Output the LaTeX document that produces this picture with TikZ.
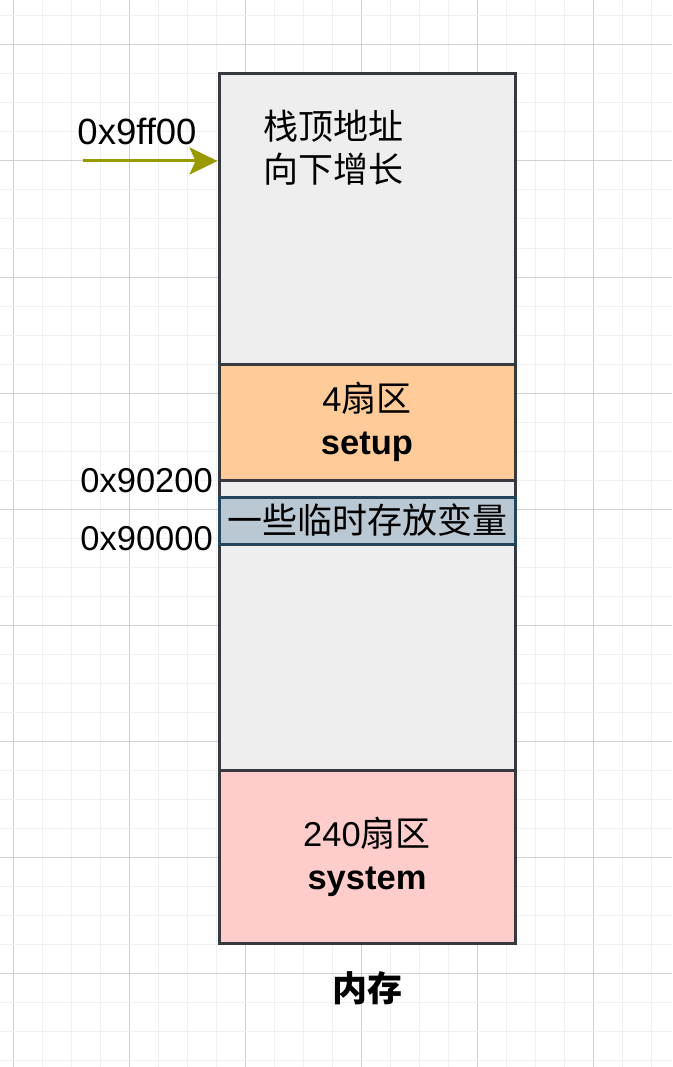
\documentclass[tikz,border=0pt]{standalone}
\usepackage{fontspec}
\setmainfont{Liberation Sans}
\newfontfamily\cjk{Noto Sans CJK SC}
\usetikzlibrary{arrows.meta}
\definecolor{gridminor}{HTML}{F0F0F0}
\definecolor{gridmajor}{HTML}{D0D0D0}
\definecolor{cellgray}{HTML}{EEEEEE}
\definecolor{cellstroke}{HTML}{36393D}
\definecolor{cellorange}{HTML}{FFCC99}
\definecolor{cellblue}{HTML}{BAC8D3}
\definecolor{bluestroke}{HTML}{23445D}
\definecolor{cellpink}{HTML}{FFCCCC}
\definecolor{arrowolive}{HTML}{999900}
\tikzset{
  bigtext/.style={font=\fontsize{35}{43}\selectfont, inner sep=0pt, align=center},
  memcell/.style={draw=cellstroke, line width=3pt, minimum width=296pt, inner sep=0pt, align=center, font=\fontsize{34.5}{43}\selectfont},
  addr/.style={font=\fontsize{34.5}{43}\selectfont, inner sep=0pt},
}
\begin{document}
\begin{tikzpicture}[x=1pt,y=-1pt]
\useasboundingbox (0,0) rectangle (672,1067);
\fill[white] (0,0) rectangle (672,1067);
% grid
\foreach \i in {0,...,22} {
  \pgfmathtruncatemacro{\m}{mod(\i,4)}
  \ifnum\m=0
    \draw[gridmajor, line width=1pt] (13+29*\i,0) -- (13+29*\i,1067);
  \else
    \draw[gridminor, line width=1pt] (13+29*\i,0) -- (13+29*\i,1067);
  \fi
}
\foreach \j in {0,...,36} {
  \pgfmathtruncatemacro{\m}{mod(\j,4)}
  \ifnum\m=1
    \draw[gridmajor, line width=1pt] (0,16+29*\j) -- (672,16+29*\j);
  \else
    \draw[gridminor, line width=1pt] (0,16+29*\j) -- (672,16+29*\j);
  \fi
}
% memory column
\node[memcell, fill=cellgray, minimum height=869pt] (mem) at (367,508.5) {};
\node[memcell, fill=cellorange, minimum height=116pt] (setup) at (367,422) {4{\cjk\fontsize{35}{43}\selectfont 扇区}\\\textbf{setup}};
\node[memcell, draw=bluestroke, fill=cellblue, minimum height=47pt] (tmp) at (367,520.5) {\cjk\fontsize{35}{43}\selectfont 一些临时存放变量};
\node[memcell, fill=cellpink, minimum height=173pt] (system) at (367,856.5) {240{\cjk\fontsize{35}{43}\selectfont 扇区}\\\textbf{system}};
% labels
\node[bigtext, anchor=west, align=left] (note) at (263,148) {\cjk 栈顶地址\\\cjk 向下增长};
\node[bigtext] (lbl) at (367,988) {\cjk\bfseries 内存};
\node[addr, font=\fontsize{36.5}{43}\selectfont] (top) at (137,131) {0x9ff00};
\node[addr, anchor=east] (a1) at (213,481) {0x90200};
\node[addr, anchor=east] (a2) at (213,539) {0x90000};
\coordinate (arrstart) at (83,161);
\coordinate (arrend) at (mem.west |- arrstart);
\draw[arrowolive, line width=3pt, -{Stealth[length=28pt,width=27pt,inset=6pt]}] (arrstart) -- (arrend);
\end{tikzpicture}
\end{document}
